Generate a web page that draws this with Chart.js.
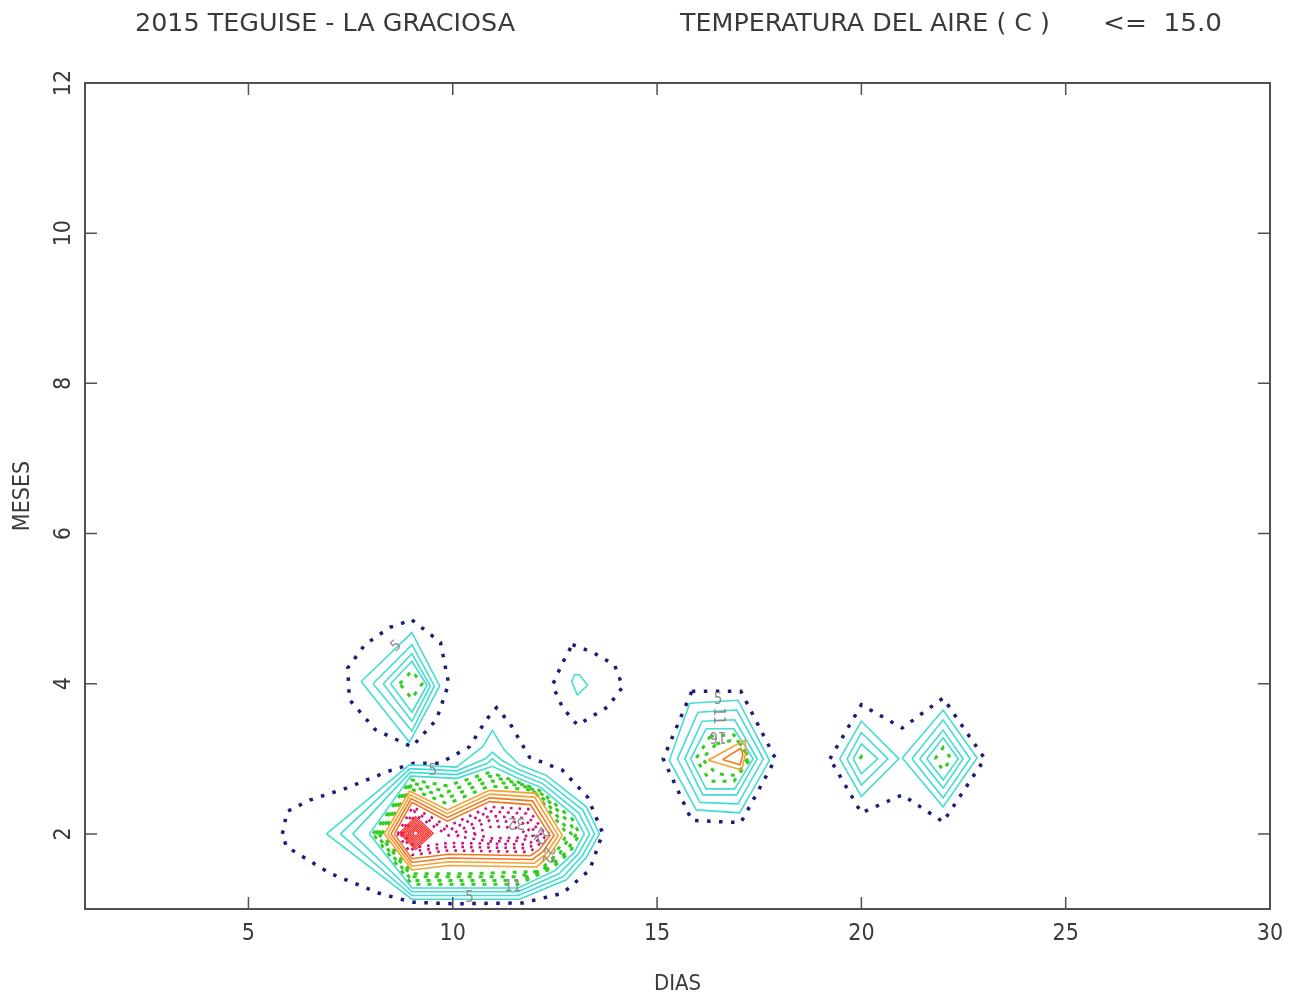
<!DOCTYPE html>
<html>
<head>
<meta charset="utf-8">
<title>2015 TEGUISE - LA GRACIOSA</title>
<script src="https://cdn.jsdelivr.net/npm/chart.js@4.4.0/dist/chart.umd.min.js"></script>
<style>
  html, body { margin: 0; padding: 0; background: #fff; }
  #wrap { width: 1296px; height: 995px; }
</style>
</head>
<body>
<div id="wrap"><canvas id="contourChart" width="1296" height="995"></canvas></div>
<script>
// tick labels
const xTicks = [5, 10, 15, 20, 25, 30];
const yTicks = [2, 4, 6, 8, 10, 12];

// contour lines, [dia, mes]
// group around day 9, month 4
const navyA = [[9.0,4.85],[9.7,4.55],[9.9,4.0],[9.6,3.52],[9.0,3.16],[8.1,3.39],[7.47,3.79],[7.43,4.21],[7.85,4.52],[8.46,4.75]];
const cyanA1 = [[7.76,4.03],[9.0,4.68],[9.68,3.97],[8.94,3.22]];
const cyanA2 = [[8.05,4.0],[9.0,4.52],[9.55,3.97],[9.0,3.37]];
const cyanA3 = [[8.3,4.0],[9.0,4.4],[9.45,3.97],[9.0,3.5]];
const cyanA4 = [[8.48,4.0],[9.0,4.3],[9.37,3.98],[9.0,3.62]];
const greenA = [[8.7,4.0],[9.0,4.17],[9.25,4.0],[9.0,3.8]];

// group around day 13, month 4
const navyC = [[12.93,4.52],[13.42,4.42],[13.96,4.25],[14.16,3.96],[13.79,3.69],[13.3,3.53],[13.05,3.45],[12.69,3.68],[12.44,3.98],[12.57,4.14],[12.78,4.38]];
const cyanC = [[12.91,4.03],[12.98,4.12],[13.1,4.12],[13.3,3.98],[13.05,3.85]];

// main group, days 6-14, months 1-3
const navyB = [[5.83,2.0],[5.95,2.3],[6.5,2.45],[7.4,2.61],[8.5,2.85],[9.05,2.94],[9.68,2.94],[10.41,3.16],[10.82,3.52],[11.07,3.68],[11.39,3.48],[11.88,3.02],[12.68,2.85],[13.3,2.49],[13.67,2.01],[13.35,1.52],[12.69,1.21],[11.71,1.08],[10.0,1.07],[9.01,1.09],[8.2,1.21],[6.98,1.48],[5.93,1.83]];
const cyanB1 = [[6.91,2.0],[8.94,2.92],[10.09,2.89],[10.73,3.16],[10.97,3.38],[11.26,3.12],[11.63,2.92],[12.29,2.78],[13.27,2.36],[13.59,2.0],[13.27,1.69],[12.78,1.39],[11.63,1.13],[9.0,1.13]];
const cyanB2 = [[7.25,2.0],[8.95,2.87],[10.1,2.84],[10.8,3.0],[10.97,3.09],[11.2,2.98],[11.6,2.86],[12.25,2.72],[13.18,2.32],[13.47,2.0],[13.17,1.71],[12.7,1.43],[11.6,1.18],[9.0,1.18]];
const cyanB3 = [[7.55,2.0],[8.96,2.82],[10.1,2.79],[10.85,2.94],[10.97,3.0],[11.15,2.92],[11.6,2.8],[12.2,2.67],[13.08,2.28],[13.35,2.0],[13.07,1.73],[12.6,1.47],[11.6,1.23],[9.0,1.23]];
const cyanB4 = [[7.96,2.0],[8.97,2.77],[10.1,2.74],[10.97,2.9],[11.6,2.74],[12.15,2.62],[12.98,2.24],[13.22,2.0],[12.97,1.75],[12.5,1.51],[11.6,1.28],[9.0,1.28]];
const greenB1 = [[8.05,2.0],[8.98,2.72],[9.87,2.64],[10.9,2.82],[11.6,2.69],[12.12,2.58],[12.92,2.2],[13.1,2.0],[12.88,1.77],[12.45,1.55],[11.6,1.33],[9.0,1.33]];
const greenB2 = [[8.12,2.0],[8.98,2.68],[9.87,2.56],[10.9,2.77],[11.75,2.65],[12.18,2.53],[12.87,2.14],[13.02,2.0],[12.8,1.77],[12.36,1.55],[11.6,1.38],[9.0,1.38]];
const greenB3 = [[8.19,2.0],[8.98,2.64],[9.87,2.48],[10.9,2.71],[11.85,2.62],[12.25,2.45],[12.9,2.0],[12.62,1.74],[12.22,1.53],[11.6,1.43],[9.0,1.43]];
const greenB4 = [[8.26,2.0],[8.97,2.6],[9.87,2.4],[10.9,2.64],[11.98,2.58],[12.8,2.0],[12.45,1.68],[12.1,1.5],[10.4,1.47],[9.0,1.47]];
const orangeB1 = [[8.33,2.0],[8.94,2.57],[9.87,2.32],[10.9,2.58],[12.05,2.54],[12.68,1.98],[12.35,1.7],[12.05,1.56],[9.9,1.58],[9.0,1.52]];
const orangeB2 = [[8.41,2.0],[8.96,2.52],[9.87,2.27],[10.9,2.53],[12.0,2.49],[12.58,1.98],[12.28,1.73],[12.0,1.61],[9.9,1.63],[9.0,1.57]];
const orangeB3 = [[8.49,2.0],[8.98,2.47],[9.87,2.22],[10.9,2.48],[11.95,2.44],[12.48,1.98],[12.2,1.76],[11.95,1.66],[9.9,1.68],[9.0,1.62]];
const orangeB4 = [[8.57,2.0],[9.0,2.42],[9.87,2.17],[10.9,2.43],[11.9,2.39],[12.38,1.98],[12.12,1.79],[11.9,1.71],[9.9,1.73],[9.0,1.67]];
const magentaB1 = [[8.65,2.0],[9.02,2.36],[9.87,2.1],[10.9,2.36],[11.85,2.33],[12.28,1.98],[12.05,1.82],[11.85,1.76],[9.9,1.78],[9.0,1.72]];
const magentaB2 = [[8.72,2.0],[9.05,2.3],[9.87,2.04],[10.9,2.3],[11.8,2.27],[12.18,1.98],[11.98,1.85],[11.8,1.81],[9.9,1.83],[9.05,1.77]];
const magentaB3 = [[8.78,2.0],[9.08,2.25],[9.9,1.98],[10.9,2.24],[11.75,2.21],[12.08,1.98],[11.9,1.88],[11.75,1.86],[9.9,1.88],[9.08,1.82]];
const magentaB4 = [[10.1,1.97],[10.9,2.18],[11.7,2.15],[11.98,1.98],[11.7,1.91],[10.9,1.9]];
const magentaB5 = [[10.5,2.0],[10.95,2.1],[11.6,2.08],[11.85,1.98],[11.6,1.95],[10.95,1.94]];
const redB1 = [[8.7,2.01],[9.09,2.23],[9.52,2.01],[9.09,1.79]];
const redB2 = [[8.75,2.01],[9.09,2.2],[9.46,2.01],[9.09,1.82]];
const redB3 = [[8.8,2.01],[9.09,2.17],[9.41,2.01],[9.09,1.85]];
const redB4 = [[8.85,2.01],[9.09,2.14],[9.35,2.01],[9.09,1.88]];
const redB5 = [[8.9,2.01],[9.09,2.11],[9.29,2.01],[9.09,1.91]];
const redB6 = [[8.95,2.01],[9.09,2.08],[9.23,2.01],[9.09,1.94]];
const redB7 = [[9.01,2.01],[9.09,2.05],[9.17,2.01],[9.09,1.97]];

// group around day 17, month 3
const navyD = [[15.85,3.9],[17.05,3.9],[17.9,3.0],[17.05,2.15],[15.85,2.18],[15.15,3.0]];
const cyanD1 = [[15.8,3.74],[16.98,3.78],[17.75,2.98],[17.02,2.28],[15.96,2.32],[15.3,2.98]];
const cyanD2 = [[16.0,3.62],[16.95,3.65],[17.6,3.0],[16.98,2.4],[16.05,2.42],[15.5,3.0]];
const cyanD3 = [[16.1,3.5],[16.9,3.52],[17.45,3.0],[16.95,2.52],[16.12,2.52],[15.68,3.0]];
const cyanD4 = [[16.2,3.4],[16.88,3.4],[17.35,3.0],[16.9,2.6],[16.2,2.6],[15.82,3.0]];
const greenD1 = [[16.3,3.3],[16.88,3.32],[17.28,3.0],[16.88,2.7],[16.3,2.7],[15.95,3.0]];
const greenD2 = [[16.45,3.2],[16.95,3.26],[17.24,3.02],[16.95,2.78],[16.45,2.8],[16.1,3.0]];
const orangeD1 = [[16.25,2.98],[17.15,3.25],[17.18,3.1],[17.07,2.85]];
const orangeD2 = [[16.6,2.99],[17.05,3.14],[17.1,3.05],[17.03,2.92]];

// groups around days 20 and 22, month 3
const navyEF = [[19.23,3.0],[20.0,3.72],[21.0,3.41],[22.0,3.81],[23.02,3.0],[22.0,2.16],[21.0,2.52],[20.0,2.28]];
const cyanE1 = [[19.47,3.0],[20.0,3.5],[20.92,3.0],[20.0,2.5]];
const cyanE2 = [[19.65,3.0],[20.0,3.35],[20.65,3.0],[20.0,2.65]];
const cyanE3 = [[19.8,3.0],[20.0,3.2],[20.4,3.0],[20.0,2.8]];
const greenE = [[19.96,3.0],[20.0,3.03],[20.04,3.0],[20.0,2.97]];
const cyanF1 = [[21.0,3.01],[22.0,3.65],[22.83,3.01],[22.0,2.36]];
const cyanF2 = [[21.24,3.0],[22.0,3.52],[22.66,3.0],[22.0,2.48]];
const cyanF3 = [[21.43,3.0],[22.0,3.38],[22.49,3.0],[22.0,2.61]];
const cyanF4 = [[21.6,3.0],[22.0,3.28],[22.37,3.0],[22.0,2.72]];
const greenF = [[21.8,3.0],[22.0,3.15],[22.2,3.0],[22.0,2.85]];

// contour labels: text, dia, mes
const labelTexts = ['5', '5', '5', '11', '32', '22', '22', '5', '11', '16'];
const labelDays = [8.62, 9.51, 10.41, 11.47, 11.56, 12.15, 12.32, 16.49, 16.49, 16.49];
const labelMonths = [4.5, 2.84, 1.15, 1.29, 2.16, 1.98, 1.72, 3.78, 3.57, 3.3];
const labelAngles = [-40, 0, 0, 0, 180, 120, 100, 0, 90, 180];

const FONT = "'Liberation Sans Narrow', 'DejaVu Sans Condensed', 'Liberation Sans', sans-serif";

const levelStyles = {
    navy:    { color: '#1c1c7a', width: 3.5, dash: [3.5, 8.5] },
    cyan:    { color: '#44dcd2', width: 1.6, dash: [] },
    green:   { color: '#33cc22', width: 3, dash: [4, 7] },
    orange:  { color: '#f5a030', width: 1.6, dash: [] },
    orange2: { color: '#f07820', width: 1.6, dash: [] },
    magenta: { color: '#c8107f', width: 2.6, dash: [2.6, 6] },
    red:     { color: '#ff2a2a', width: 1.3, dash: [] },
};

const contourLines = [
    [navyA, 'navy'], [navyC, 'navy'], [navyB, 'navy'], [navyD, 'navy'], [navyEF, 'navy'],
    [cyanA1, 'cyan'], [cyanA2, 'cyan'], [cyanA3, 'cyan'], [cyanA4, 'cyan'], [cyanC, 'cyan'],
    [cyanB1, 'cyan'], [cyanB2, 'cyan'], [cyanB3, 'cyan'], [cyanB4, 'cyan'],
    [cyanD1, 'cyan'], [cyanD2, 'cyan'], [cyanD3, 'cyan'], [cyanD4, 'cyan'],
    [cyanE1, 'cyan'], [cyanE2, 'cyan'], [cyanE3, 'cyan'],
    [cyanF1, 'cyan'], [cyanF2, 'cyan'], [cyanF3, 'cyan'], [cyanF4, 'cyan'],
    [greenA, 'green'], [greenB1, 'green'], [greenB2, 'green'], [greenB3, 'green'], [greenB4, 'green'],
    [greenD1, 'green'], [greenD2, 'green'], [greenE, 'green'], [greenF, 'green'],
    [orangeB1, 'orange'], [orangeB2, 'orange'], [orangeB3, 'orange2'], [orangeB4, 'orange2'],
    [orangeD1, 'orange'], [orangeD2, 'orange2'],
    [magentaB1, 'magenta'], [magentaB2, 'magenta'], [magentaB3, 'magenta'], [magentaB4, 'magenta'], [magentaB5, 'magenta'],
    [redB1, 'red'], [redB2, 'red'], [redB3, 'red'], [redB4, 'red'], [redB5, 'red'], [redB6, 'red'], [redB7, 'red'],
];

// build one line dataset per closed contour
const datasets = contourLines.map(([pts, level], i) => {
    const st = levelStyles[level];
    const data = pts.map(p => ({ x: p[0], y: p[1] }));
    data.push({ x: pts[0][0], y: pts[0][1] });
    return {
        data: data,
        showLine: true,
        pointRadius: 0,
        borderColor: st.color,
        borderWidth: st.width,
        borderDash: st.dash,
        borderCapStyle: 'butt',
        borderJoinStyle: 'miter',
        fill: false,
        order: contourLines.length - i,
    };
});

// header texts above the plot
const headerPlugin = {
    id: 'headerPlugin',
    afterDraw(chart) {
        const ctx = chart.ctx;
        const items = [
            ['2015 TEGUISE - LA GRACIOSA', 135, 380],
            ['TEMPERATURA DEL AIRE ( C )', 680, 370],
            ['<=  15.0', 1103, 119],
        ];
        ctx.save();
        ctx.fillStyle = '#3a3a3a';
        ctx.font = '24px ' + FONT;
        ctx.textBaseline = 'middle';
        items.forEach(([text, x, w]) => {
            const natural = ctx.measureText(text).width;
            ctx.save();
            ctx.translate(x, 25);
            ctx.scale(w / natural, 1);
            ctx.fillText(text, 0, 0);
            ctx.restore();
        });
        ctx.restore();
    }
};

// frame and inward ticks on all four sides, contour labels
const framePlugin = {
    id: 'framePlugin',
    afterDatasetsDraw(chart) {
        const { ctx, scales } = chart;
        ctx.save();
        ctx.fillStyle = '#8a8a8a';
        ctx.font = '15px ' + FONT;
        ctx.textAlign = 'center';
        ctx.textBaseline = 'middle';
        labelTexts.forEach((t, i) => {
            const px = scales.x.getPixelForValue(labelDays[i]);
            const py = scales.y.getPixelForValue(labelMonths[i]);
            ctx.save();
            ctx.translate(px, py);
            ctx.rotate(labelAngles[i] * Math.PI / 180);
            ctx.fillText(t, 0, 0);
            ctx.restore();
        });
        ctx.restore();
    },
    afterDraw(chart) {
        const { ctx, chartArea: a, scales } = chart;
        ctx.save();
        ctx.strokeStyle = '#505050';
        ctx.lineWidth = 2;
        ctx.strokeRect(a.left, a.top, a.right - a.left, a.bottom - a.top);
        ctx.lineWidth = 1.5;
        ctx.beginPath();
        scales.x.ticks.forEach(t => {
            const px = scales.x.getPixelForValue(t.value);
            ctx.moveTo(px, a.bottom); ctx.lineTo(px, a.bottom - 12);
            ctx.moveTo(px, a.top); ctx.lineTo(px, a.top + 12);
        });
        scales.y.ticks.forEach(t => {
            const py = scales.y.getPixelForValue(t.value);
            ctx.moveTo(a.left, py); ctx.lineTo(a.left + 12, py);
            ctx.moveTo(a.right, py); ctx.lineTo(a.right - 12, py);
        });
        ctx.stroke();
        ctx.restore();
    }
};

const ctx = document.getElementById('contourChart').getContext('2d');
const contourChart = new Chart(ctx, {
    type: 'scatter',
    data: { datasets: datasets },
    options: {
        responsive: false,
        animation: false,
        devicePixelRatio: 1,
        layout: { padding: { top: 83, right: 26, left: 0, bottom: 0 } },
        plugins: {
            legend: { display: false },
            tooltip: { enabled: false },
        },
        scales: {
            x: {
                type: 'linear',
                min: 1,
                max: 30,
                grid: { display: false, drawTicks: false },
                border: { display: false },
                afterBuildTicks: scale => { scale.ticks = xTicks.map(v => ({ value: v })); },
                afterFit: scale => { scale.height = 86; },
                ticks: {
                    color: '#3a3a3a',
                    font: { family: FONT, size: 23 },
                    padding: 11,
                    maxRotation: 0,
                    autoSkip: false,
                },
                title: {
                    display: true,
                    text: 'DIAS',
                    color: '#3a3a3a',
                    font: { family: FONT, size: 22 },
                    padding: { top: 0, bottom: -2 },
                },
            },
            y: {
                type: 'linear',
                min: 1,
                max: 12,
                grid: { display: false, drawTicks: false },
                border: { display: false },
                afterBuildTicks: scale => { scale.ticks = yTicks.map(v => ({ value: v })); },
                afterFit: scale => { scale.width = 85; },
                ticks: {
                    color: '#3a3a3a',
                    font: { family: FONT, size: 23 },
                    padding: 8,
                    minRotation: 90,
                    maxRotation: 90,
                    crossAlign: 'center',
                    autoSkip: false,
                },
                title: {
                    display: true,
                    text: 'MESES',
                    color: '#3a3a3a',
                    font: { family: FONT, size: 23 },
                    padding: { top: 9, bottom: 0 },
                },
            },
        },
    },
    plugins: [headerPlugin, framePlugin],
});
</script>
</body>
</html>
